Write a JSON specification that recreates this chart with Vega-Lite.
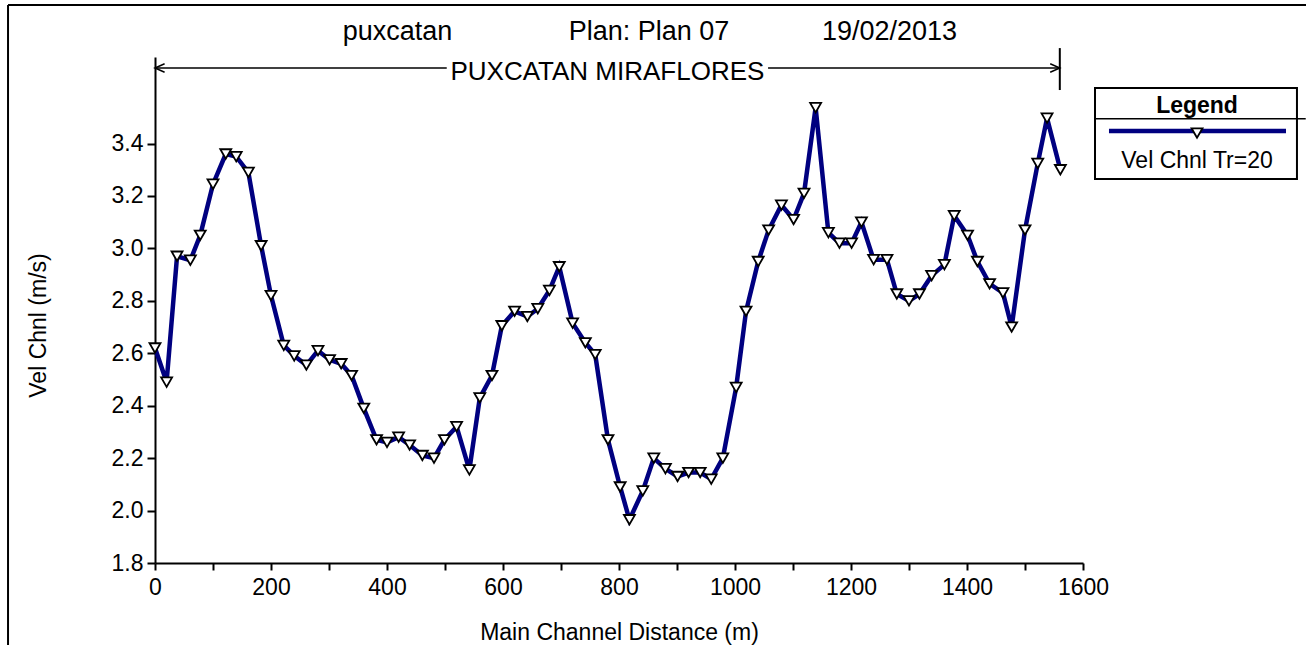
{
  "$schema": "https://vega.github.io/schema/vega-lite/v6.json",
  "width": 928,
  "height": 506,
  "autosize": {"type": "none"},
  "padding": {"left": 155, "top": 57, "right": 223, "bottom": 82},
  "background": "white",
  "config": {
    "view": {"stroke": null},
    "font": "Liberation Sans",
    "axis": {
      "grid": false,
      "domainColor": "black",
      "domainWidth": 2,
      "tickColor": "black",
      "tickWidth": 2,
      "labelColor": "black",
      "titleColor": "black",
      "labelFont": "Liberation Sans",
      "titleFont": "Liberation Sans",
      "labelFontSize": 23,
      "titleFontSize": 23,
      "titleFontWeight": "normal"
    }
  },
  "datasets": {
    "profile": [
      {"dist": 0, "vel": 2.62}, {"dist": 20, "vel": 2.49}, {"dist": 38, "vel": 2.97}, {"dist": 61, "vel": 2.955},
      {"dist": 78, "vel": 3.05}, {"dist": 100, "vel": 3.245}, {"dist": 122, "vel": 3.36}, {"dist": 140, "vel": 3.35},
      {"dist": 161, "vel": 3.29}, {"dist": 183, "vel": 3.01}, {"dist": 200, "vel": 2.82}, {"dist": 222, "vel": 2.63},
      {"dist": 240, "vel": 2.59}, {"dist": 261, "vel": 2.555}, {"dist": 281, "vel": 2.61}, {"dist": 301, "vel": 2.575},
      {"dist": 321, "vel": 2.56}, {"dist": 339, "vel": 2.515}, {"dist": 360, "vel": 2.39}, {"dist": 382, "vel": 2.27},
      {"dist": 400, "vel": 2.26}, {"dist": 420, "vel": 2.28}, {"dist": 439, "vel": 2.25}, {"dist": 461, "vel": 2.21},
      {"dist": 481, "vel": 2.2}, {"dist": 499, "vel": 2.27}, {"dist": 520, "vel": 2.32}, {"dist": 542, "vel": 2.155},
      {"dist": 560, "vel": 2.43}, {"dist": 581, "vel": 2.515}, {"dist": 598, "vel": 2.705}, {"dist": 620, "vel": 2.76},
      {"dist": 642, "vel": 2.74}, {"dist": 660, "vel": 2.77}, {"dist": 680, "vel": 2.84}, {"dist": 697, "vel": 2.93},
      {"dist": 720, "vel": 2.715}, {"dist": 742, "vel": 2.64}, {"dist": 759, "vel": 2.595}, {"dist": 781, "vel": 2.27},
      {"dist": 802, "vel": 2.09}, {"dist": 818, "vel": 1.965}, {"dist": 841, "vel": 2.075}, {"dist": 860, "vel": 2.2},
      {"dist": 880, "vel": 2.16}, {"dist": 901, "vel": 2.13}, {"dist": 920, "vel": 2.145}, {"dist": 940, "vel": 2.145},
      {"dist": 959, "vel": 2.12}, {"dist": 979, "vel": 2.2}, {"dist": 1002, "vel": 2.47}, {"dist": 1019, "vel": 2.76},
      {"dist": 1040, "vel": 2.95}, {"dist": 1058, "vel": 3.07}, {"dist": 1080, "vel": 3.165}, {"dist": 1101, "vel": 3.11},
      {"dist": 1119, "vel": 3.21}, {"dist": 1139, "vel": 3.537}, {"dist": 1161, "vel": 3.06}, {"dist": 1180, "vel": 3.02},
      {"dist": 1201, "vel": 3.02}, {"dist": 1218, "vel": 3.1}, {"dist": 1239, "vel": 2.957}, {"dist": 1262, "vel": 2.957},
      {"dist": 1279, "vel": 2.826}, {"dist": 1300, "vel": 2.8}, {"dist": 1318, "vel": 2.826}, {"dist": 1339, "vel": 2.896},
      {"dist": 1361, "vel": 2.938}, {"dist": 1378, "vel": 3.125}, {"dist": 1401, "vel": 3.05}, {"dist": 1418, "vel": 2.95},
      {"dist": 1439, "vel": 2.865}, {"dist": 1462, "vel": 2.83}, {"dist": 1477, "vel": 2.7}, {"dist": 1500, "vel": 3.07},
      {"dist": 1522, "vel": 3.324}, {"dist": 1538, "vel": 3.497}, {"dist": 1561, "vel": 3.3}
    ],
    "one": [{}]
  },
  "layer": [
    {
      "data": {"name": "profile"},
      "mark": {"type": "line", "color": "#000080", "strokeWidth": 4.5},
      "encoding": {
        "x": {
          "field": "dist", "type": "quantitative",
          "scale": {"domain": [0, 1600], "nice": false, "zero": false},
          "axis": {
            "title": "Main Channel Distance (m)",
            "values": [0, 100, 200, 300, 400, 500, 600, 700, 800, 900, 1000, 1100, 1200, 1300, 1400, 1500, 1600],
            "labelExpr": "datum.value % 200 === 0 ? datum.label : ''",
            "format": "d",
            "tickSize": 7,
            "labelPadding": 6,
            "labelFlush": false,
            "labelOverlap": false,
            "titleY": 69,
            "titleBaseline": "middle"
          }
        },
        "y": {
          "field": "vel", "type": "quantitative",
          "scale": {"domain": [1.8, 3.73], "nice": false, "zero": false},
          "axis": {
            "title": "Vel Chnl (m/s)",
            "values": [1.8, 1.9, 2.0, 2.1, 2.2, 2.3, 2.4, 2.5, 2.6, 2.7, 2.8, 2.9, 3.0, 3.1, 3.2, 3.3, 3.4, 3.5],
            "labelExpr": "round(datum.value * 10) % 2 === 0 ? format(datum.value, '.1f') : ''",
            "tickSize": 8,
            "labelPadding": 4,
            "labelFlush": false,
            "labelOverlap": false,
            "titleX": -117,
            "titleY": 268,
            "titleBaseline": "middle",
            "titleAlign": "center"
          }
        }
      }
    },
    {
      "data": {"name": "profile"},
      "mark": {"type": "point", "shape": "triangle-down", "filled": true, "fill": "white", "stroke": "black", "strokeWidth": 1.8, "size": 120, "opacity": 1},
      "encoding": {
        "x": {"field": "dist", "type": "quantitative"},
        "y": {"field": "vel", "type": "quantitative"}
      }
    },
    {
      "data": {"name": "one"},
      "mark": {"type": "rule", "color": "black", "strokeWidth": 1.5},
      "encoding": {"x": {"datum": 0}, "x2": {"datum": 503}, "y": {"datum": 3.688}}
    },
    {
      "data": {"name": "one"},
      "mark": {"type": "rule", "color": "black", "strokeWidth": 1.5},
      "encoding": {"x": {"datum": 1057}, "x2": {"datum": 1560}, "y": {"datum": 3.688}}
    },
    {
      "data": {"name": "one"},
      "mark": {"type": "rule", "color": "black", "strokeWidth": 2},
      "encoding": {"x": {"datum": 1560}, "y": {"datum": 3.764}, "y2": {"datum": 3.604}}
    },
    {
      "data": {"name": "one"},
      "mark": {"type": "point", "shape": "M1.6,-0.7L0,0L1.6,0.7", "filled": false, "stroke": "black", "strokeWidth": 1.5, "size": 144, "opacity": 1},
      "encoding": {"x": {"datum": 0}, "y": {"datum": 3.688}}
    },
    {
      "data": {"name": "one"},
      "mark": {"type": "point", "shape": "M-1.6,-0.7L0,0L-1.6,0.7", "filled": false, "stroke": "black", "strokeWidth": 1.5, "size": 144, "opacity": 1},
      "encoding": {"x": {"datum": 1560}, "y": {"datum": 3.688}}
    },
    {
      "data": {"name": "one"},
      "mark": {"type": "text", "text": "PUXCATAN MIRAFLORES", "font": "Liberation Sans", "fontSize": 26, "align": "center", "baseline": "alphabetic", "color": "black"},
      "encoding": {"x": {"datum": 780}, "y": {"datum": 3.642}}
    },
    {
      "data": {"name": "one"},
      "mark": {"type": "text", "text": "puxcatan", "font": "Liberation Sans", "fontSize": 27, "align": "center", "baseline": "alphabetic", "color": "black"},
      "encoding": {"x": {"datum": 418}, "y": {"datum": 3.795}}
    },
    {
      "data": {"name": "one"},
      "mark": {"type": "text", "text": "Plan: Plan 07", "font": "Liberation Sans", "fontSize": 27, "align": "center", "baseline": "alphabetic", "color": "black"},
      "encoding": {"x": {"datum": 851.7}, "y": {"datum": 3.795}}
    },
    {
      "data": {"name": "one"},
      "mark": {"type": "text", "text": "19/02/2013", "font": "Liberation Sans", "fontSize": 27, "align": "center", "baseline": "alphabetic", "color": "black"},
      "encoding": {"x": {"datum": 1266.4}, "y": {"datum": 3.795}}
    },
    {
      "data": {"name": "one"},
      "mark": {"type": "rect", "fill": "white", "stroke": "black", "strokeWidth": 2},
      "encoding": {"x": {"datum": 1620.7}, "x2": {"datum": 1968.9}, "y": {"datum": 3.612}, "y2": {"datum": 3.265}}
    },
    {
      "data": {"name": "one"},
      "mark": {"type": "rule", "color": "black", "strokeWidth": 1.5},
      "encoding": {"x": {"datum": 1620.7}, "x2": {"datum": 1984}, "y": {"datum": 3.494}}
    },
    {
      "data": {"name": "one"},
      "mark": {"type": "rule", "color": "#000080", "strokeWidth": 4.5},
      "encoding": {"x": {"datum": 1644.8}, "x2": {"datum": 1950}, "y": {"datum": 3.448}}
    },
    {
      "data": {"name": "one"},
      "mark": {"type": "point", "shape": "triangle-down", "filled": true, "fill": "white", "stroke": "black", "strokeWidth": 1.8, "size": 120, "opacity": 1},
      "encoding": {"x": {"datum": 1796.6}, "y": {"datum": 3.44}}
    },
    {
      "data": {"name": "one"},
      "mark": {"type": "text", "text": "Legend", "font": "Liberation Sans", "fontSize": 23, "fontWeight": "bold", "align": "center", "baseline": "alphabetic", "color": "black"},
      "encoding": {"x": {"datum": 1796.6}, "y": {"datum": 3.516}}
    },
    {
      "data": {"name": "one"},
      "mark": {"type": "text", "text": "Vel Chnl Tr=20", "font": "Liberation Sans", "fontSize": 23, "align": "center", "baseline": "alphabetic", "color": "black"},
      "encoding": {"x": {"datum": 1796.6}, "y": {"datum": 3.307}}
    },
    {
      "data": {"name": "one"},
      "mark": {"type": "rule", "color": "black", "strokeWidth": 2},
      "encoding": {"x": {"datum": -253.4}, "y": {"datum": 3.928}, "y2": {"datum": 1.4}}
    },
    {
      "data": {"name": "one"},
      "mark": {"type": "rule", "color": "black", "strokeWidth": 2},
      "encoding": {"x": {"datum": -253.4}, "x2": {"datum": 2100}, "y": {"datum": 3.928}}
    }
  ]
}
